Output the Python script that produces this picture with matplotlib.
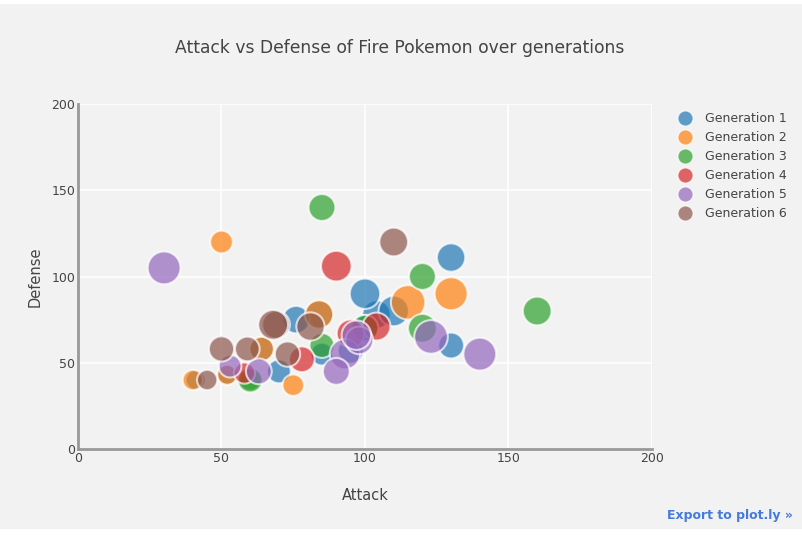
import matplotlib
matplotlib.use("Agg")
import matplotlib.pyplot as plt
from matplotlib.patches import Rectangle
import numpy as np

generations = ["Generation 1", "Generation 2", "Generation 3",
               "Generation 4", "Generation 5", "Generation 6"]

gen1_attack = [52, 64, 84, 130, 104, 41, 76, 70, 110, 85, 100, 95, 130, 100]
gen1_defense = [43, 58, 78, 111, 78, 40, 75, 45, 80, 55, 70, 57, 60, 90]
gen1_hp = [39, 58, 78, 78, 78, 38, 73, 55, 90, 50, 65, 65, 65, 90]

gen2_attack = [52, 64, 84, 40, 50, 75, 115, 130]
gen2_defense = [43, 58, 78, 40, 120, 37, 85, 90]
gen2_hp = [39, 58, 78, 40, 50, 45, 115, 106]

gen3_attack = [60, 85, 120, 160, 60, 100, 120, 85]
gen3_defense = [40, 60, 70, 80, 40, 70, 100, 140]
gen3_hp = [45, 60, 80, 80, 60, 70, 70, 70]

gen4_attack = [58, 78, 104, 95, 90]
gen4_defense = [44, 52, 71, 67, 106]
gen4_hp = [44, 64, 76, 75, 91]

gen5_attack = [63, 93, 123, 53, 98, 90, 140, 30, 97]
gen5_defense = [45, 55, 65, 48, 63, 45, 55, 105, 66]
gen5_hp = [65, 90, 110, 50, 75, 70, 105, 105, 85]

gen6_attack = [45, 59, 69, 73, 81, 50, 68, 110]
gen6_defense = [40, 58, 72, 55, 71, 58, 72, 120]
gen6_hp = [40, 59, 75, 62, 78, 62, 86, 80]

series = [
    (gen1_attack, gen1_defense, gen1_hp),
    (gen2_attack, gen2_defense, gen2_hp),
    (gen3_attack, gen3_defense, gen3_hp),
    (gen4_attack, gen4_defense, gen4_hp),
    (gen5_attack, gen5_defense, gen5_hp),
    (gen6_attack, gen6_defense, gen6_hp),
]
colors = ["#1f77b4", "#ff7f0e", "#2ca02c", "#d62728", "#9467bd", "#8c564b"]

W, H = 803, 542
fig = plt.figure(figsize=(W / 100, H / 100), dpi=100)
fig.patch.set_facecolor("white")
fig.patches.append(Rectangle((0, 1 - 529 / H), 1, (529 - 4) / H,
                             transform=fig.transFigure, facecolor="#f2f2f2",
                             edgecolor="none", zorder=-10))

bg = "#f2f2f2"
ax = fig.add_axes([78 / W, 1 - 449 / H, (652 - 78) / W, (449 - 104) / H])
ax.set_facecolor(bg)
ax.set_xlim(0, 200)
ax.set_ylim(0, 200)

ticks = [0, 50, 100, 150, 200]
ax.set_xticks(ticks)
ax.set_yticks(ticks)
ax.tick_params(length=0, labelsize=9, labelcolor="#444444", pad=2)
ax.grid(True, color="white", linewidth=1.2)
ax.set_axisbelow(True)
for side in ["top", "right"]:
    ax.spines[side].set_visible(False)
for side in ["left", "bottom"]:
    ax.spines[side].set_color("#999999")
    ax.spines[side].set_linewidth(2)

scale = (3.2 * 0.72) ** 2
for (atk, dfn, hp), c, lab in zip(series, colors, generations):
    ax.scatter(atk, dfn, s=np.array(hp) * scale, color=c, alpha=0.7,
               edgecolors="white", linewidths=1.5, label=lab, zorder=3,
               clip_on=False)

ax.set_xlabel("Attack", fontsize=10.5, color="#444444", labelpad=17)
ax.set_ylabel("Defense", fontsize=10.5, color="#444444", labelpad=6)

fig.text(400 / W, 1 - 48 / H, "Attack vs Defense of Fire Pokemon over generations",
         ha="center", va="center", fontsize=12.3, color="#444444")

leg_handles = []
for c, lab in zip(colors, generations):
    leg_handles.append(plt.Line2D([], [], marker="o", linestyle="none",
                                  markersize=11, markerfacecolor=c,
                                  markeredgecolor="white", markeredgewidth=1,
                                  alpha=0.7, label=lab))
leg = fig.legend(handles=leg_handles, loc="upper left",
                 bbox_to_anchor=(673 / W, 1 - 107 / H), frameon=False,
                 fontsize=9, labelcolor="#444444", handletextpad=1.0,
                 labelspacing=0.48, borderaxespad=0, handlelength=1.2)

fig.text(793 / W, 1 - 516 / H, "Export to plot.ly »", ha="right", va="center",
         fontsize=9, color="#447adb", fontweight="bold")

fig.savefig("out.png", dpi=100, facecolor=fig.get_facecolor())
